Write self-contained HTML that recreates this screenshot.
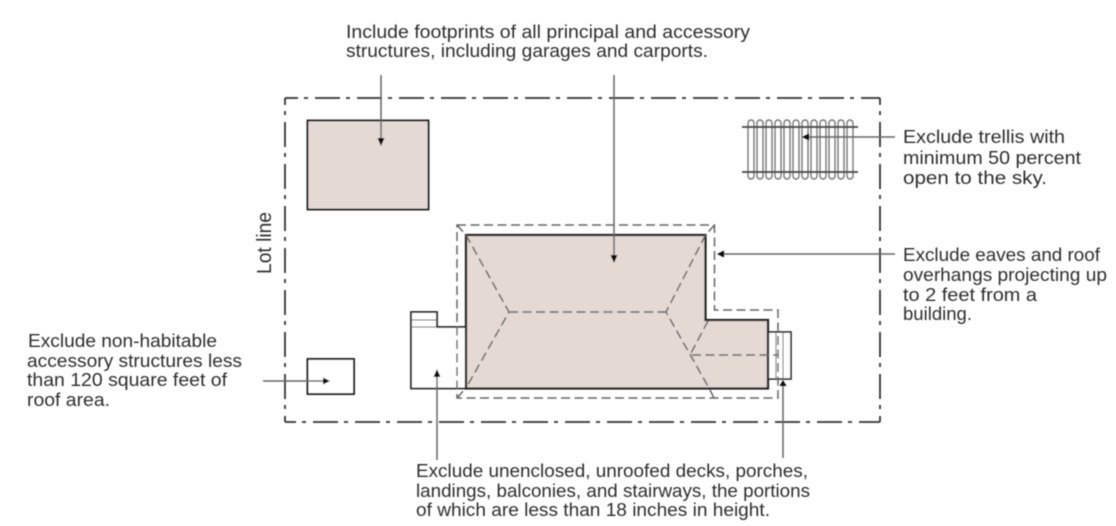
<!DOCTYPE html>
<html>
<head>
<meta charset="utf-8">
<style>
html,body{margin:0;padding:0;background:#fff;}
svg{display:block;}
text{font-family:"Liberation Sans",sans-serif;font-size:18px;fill:#2e2e2e;}
</style>
</head>
<body>
<svg width="1116" height="526" viewBox="0 0 1116 526" xmlns="http://www.w3.org/2000/svg">
<defs><filter id="b" x="-5%" y="-5%" width="110%" height="110%"><feGaussianBlur stdDeviation="0.5"/></filter></defs>
<g filter="url(#b)">
<!-- lot line -->
<g fill="none" stroke="#333" stroke-width="1.800" stroke-dasharray="25 6 4 7">
<path d="M285 98H880" stroke-dashoffset="12"/>
<path d="M285 98V422" stroke-dashoffset="18"/>
<path d="M285 422H880" stroke-dashoffset="14"/>
<path d="M880 98V422" stroke-dashoffset="18"/>
</g>
<!-- shed -->
<rect x="307.500" y="120.500" width="121" height="89" fill="#e4d9d3" stroke="#2a2a2a" stroke-width="2"/>
<!-- small structure -->
<rect x="307.500" y="359" width="46.500" height="35" fill="#fff" stroke="#222" stroke-width="2"/>
<!-- deck -->
<path d="M437 327H466V388.500H411V312H437Z" fill="#fff" stroke="#222" stroke-width="1.800"/>
<path d="M411 320H437M411 327H437" stroke="#555" stroke-width="1"/>
<!-- steps -->
<rect x="768" y="332" width="23" height="47" fill="#fff" stroke="#222" stroke-width="1.600"/>
<path d="M776 332V379M783 332V379" stroke="#555" stroke-width="1"/>
<!-- house -->
<path d="M466 235H705.500V320H768V388.500H466Z" fill="#e4d9d3" stroke="#222" stroke-width="2.300"/>
<!-- roof lines -->
<g fill="none" stroke="#666" stroke-width="1.500" stroke-dasharray="9 4.500">
<path d="M457 225H714.500V310H778V398H457Z"/>
<path d="M457 225L466 235M714.500 225L705.500 235M457 398L466 388M714 398L709 388"/>
<path d="M466 235L509 312L466 388M705.500 235L666 312L709 388M509 312H666"/>
<path d="M708 321L690 355H778"/>
</g>
<!-- trellis -->
<g fill="none" stroke="#777" stroke-width="1.400">
<rect x="748" y="120" width="6" height="59" rx="3"/><rect x="757" y="120" width="6" height="59" rx="3"/>
<rect x="766" y="120" width="6" height="59" rx="3"/><rect x="775" y="120" width="6" height="59" rx="3"/>
<rect x="784" y="120" width="6" height="59" rx="3"/><rect x="793" y="120" width="6" height="59" rx="3"/>
<rect x="802" y="120" width="6" height="59" rx="3"/><rect x="811" y="120" width="6" height="59" rx="3"/>
<rect x="820" y="120" width="6" height="59" rx="3"/><rect x="829" y="120" width="6" height="59" rx="3"/>
<rect x="838" y="120" width="6" height="59" rx="3"/><rect x="847" y="120" width="6" height="59" rx="3"/>
</g>
<path d="M742 127H858M742 172H858" stroke="#444" stroke-width="1.800"/>
<!-- arrows -->
<g stroke="#666" stroke-width="1.500" fill="none">
<path d="M381 75V140M614 75V258M895 137H806M895 254H722M263 381H326M437 460V375M783 458V386"/>
</g>
<g fill="#111">
<path d="M381 146L377.500 138H384.500Z"/>
<path d="M614 263L610.500 255H617.500Z"/>
<path d="M802 137L809 133.500V140.500Z"/>
<path d="M717 254L724 250.500V257.500Z"/>
<path d="M330 381L323 377.500V384.500Z"/>
<path d="M437 369L433.500 377H440.500Z"/>
<path d="M783 380L779.500 386H786.500Z"/>
</g>
</g>
<g filter="url(#b)">
<text x="346" y="38" textLength="404" lengthAdjust="spacingAndGlyphs">Include footprints of all principal and accessory</text>
<text x="346" y="57" textLength="362" lengthAdjust="spacingAndGlyphs">structures, including garages and carports.</text>
<text x="903" y="143" textLength="162" lengthAdjust="spacingAndGlyphs">Exclude trellis with</text>
<text x="903" y="164" textLength="178" lengthAdjust="spacingAndGlyphs">minimum 50 percent</text>
<text x="903" y="184" textLength="144" lengthAdjust="spacingAndGlyphs">open to the sky.</text>
<text x="903" y="261" textLength="197" lengthAdjust="spacingAndGlyphs">Exclude eaves and roof</text>
<text x="903" y="281" textLength="204" lengthAdjust="spacingAndGlyphs">overhangs projecting up</text>
<text x="903" y="301" textLength="134" lengthAdjust="spacingAndGlyphs">to 2 feet from a</text>
<text x="903" y="320" textLength="69" lengthAdjust="spacingAndGlyphs">building.</text>
<text x="28" y="347" textLength="189" lengthAdjust="spacingAndGlyphs">Exclude non-habitable</text>
<text x="27" y="367" textLength="215" lengthAdjust="spacingAndGlyphs">accessory structures less</text>
<text x="27" y="386" textLength="200" lengthAdjust="spacingAndGlyphs">than 120 square feet of</text>
<text x="27" y="406" textLength="83" lengthAdjust="spacingAndGlyphs">roof area.</text>
<text x="416" y="477" textLength="392" lengthAdjust="spacingAndGlyphs">Exclude unenclosed, unroofed decks, porches,</text>
<text x="416" y="497" textLength="394" lengthAdjust="spacingAndGlyphs">landings, balconies, and stairways, the portions</text>
<text x="416" y="516" textLength="354" lengthAdjust="spacingAndGlyphs">of which are less than 18 inches in height.</text>
<text transform="translate(271 274) rotate(-90)" style="font-size:20px" textLength="62" lengthAdjust="spacingAndGlyphs">Lot line</text>
</g>
</svg>
</body>
</html>
